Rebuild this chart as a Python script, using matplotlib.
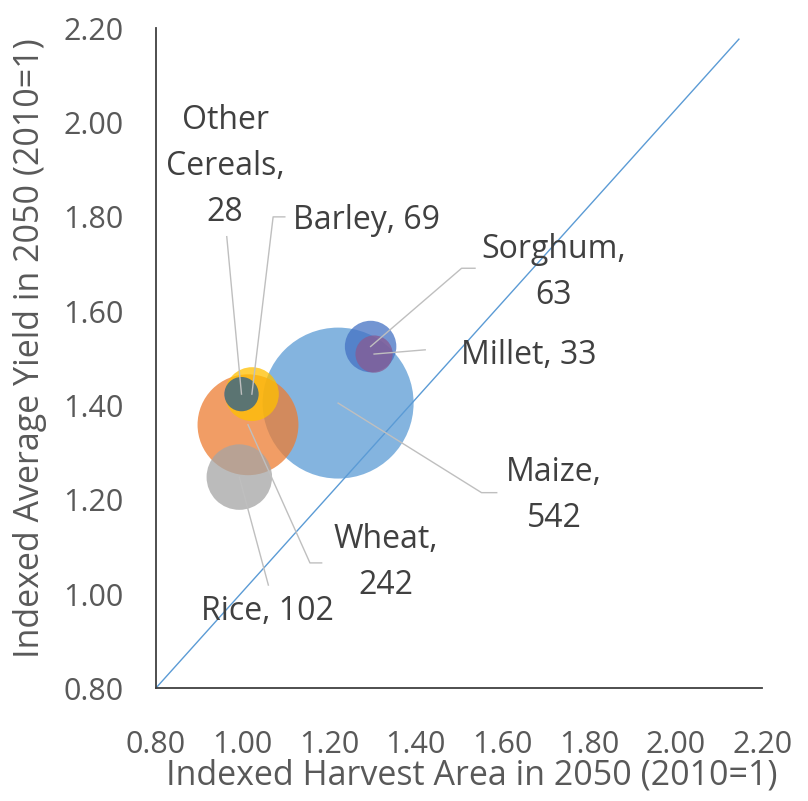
import matplotlib
matplotlib.use("Agg")
import matplotlib.pyplot as plt

# ---- data ----
crops = ["Maize", "Wheat", "Rice", "Barley", "Other Cereals", "Sorghum", "Millet"]
harvest_area_idx = [1.221, 1.013, 0.993, 1.022, 0.998, 1.296, 1.304]
avg_yield_idx = [1.405, 1.359, 1.248, 1.424, 1.424, 1.525, 1.509]
bubble_values = [542, 242, 102, 69, 28, 63, 33]
label_texts = ["Maize,\n542", "Wheat,\n242", "Rice, 102", "Barley, 69",
               "Other\nCereals,\n28", "Sorghum,\n63", "Millet, 33"]
ref_line_x = [0.80, 2.146]
ref_line_y = [0.80, 2.177]
tick_vals = [0.80, 1.00, 1.20, 1.40, 1.60, 1.80, 2.00, 2.20]

# ---- style ----
colors = ["#5B9BD5", "#ED7D31", "#A5A5A5", "#FFC000", "#255E91", "#4472C4", "#875A92"]
label_layout = {
    "Maize": dict(pos=(1.719, 1.210), ha="center", leader=[(1.587, 1.215), (1.552, 1.215)]),
    "Wheat": dict(pos=(1.331, 1.066), ha="center", leader=[(1.183, 1.066), (1.156, 1.066)]),
    "Rice": dict(pos=(1.059, 0.962), ha="center", leader=[(1.060, 1.019)]),
    "Barley": dict(pos=(1.117, 1.793), ha="left", leader=[(1.098, 1.800), (1.071, 1.800)]),
    "Other Cereals": dict(pos=(0.960, 1.906), ha="center", leader=[(0.964, 1.758)]),
    "Sorghum": dict(pos=(1.719, 1.683), ha="center", leader=[(1.537, 1.691), (1.506, 1.691)]),
    "Millet": dict(pos=(1.505, 1.507), ha="left", leader=[(1.422, 1.518)]),
}

plt.rcParams['font.family'] = ['Open Sans', 'DejaVu Sans']

W, H, DPI = 808, 801, 100
fig = plt.figure(figsize=(W / DPI, H / DPI), dpi=DPI)
ax = fig.add_axes([155.7 / W, 1 - 688.3 / H, (762.3 - 155.7) / W, (688.3 - 28.3) / H])

ax.set_xlim(0.80, 2.20)
ax.set_ylim(0.80, 2.20)

# reference line
ax.plot(ref_line_x, ref_line_y, color="#5B9BD5", lw=1.0, zorder=1)

# bubbles: area proportional to value
scale = 21.8
for i, c in enumerate(crops):
    ax.scatter([harvest_area_idx[i]], [avg_yield_idx[i]], s=bubble_values[i] * scale,
               color=colors[i], alpha=0.75, edgecolors="none", zorder=2 + i)

# labels with leaders
for i, c in enumerate(crops):
    lay = label_layout[c]
    pts = [(harvest_area_idx[i], avg_yield_idx[i])] + lay["leader"][::-1]
    xs = [p[0] for p in pts]
    ys = [p[1] for p in pts]
    ax.plot(xs, ys, color="#BFBFBF", lw=1.0, zorder=20)
    ax.text(lay["pos"][0], lay["pos"][1], label_texts[i], ha=lay["ha"], va="center",
            fontsize=23, color="#404040", linespacing=1.52, zorder=21)

ax.set_xticks(tick_vals)
ax.set_yticks(tick_vals)
ax.set_xticklabels([f"{v:.2f}" for v in tick_vals])
ax.set_yticklabels([f"{v:.2f}" for v in tick_vals])
ax.tick_params(axis="both", length=0, labelsize=22, labelcolor="#595959")
ax.tick_params(axis="x", pad=30)
ax.tick_params(axis="y", pad=23)

for s in ["top", "right"]:
    ax.spines[s].set_visible(False)
for s in ["left", "bottom"]:
    ax.spines[s].set_color("#404040")
    ax.spines[s].set_linewidth(1.3)

fig.text(472 / W, 1 - 775 / H, "Indexed Harvest Area in 2050 (2010=1)", ha="center", va="center",
         fontsize=24.5, color="#595959")
fig.text(30 / W, 1 - 348 / H, "Indexed Average Yield in 2050 (2010=1)", ha="center", va="center",
         rotation=90, fontsize=24.5, color="#595959")

fig.savefig("out.png", dpi=DPI)
